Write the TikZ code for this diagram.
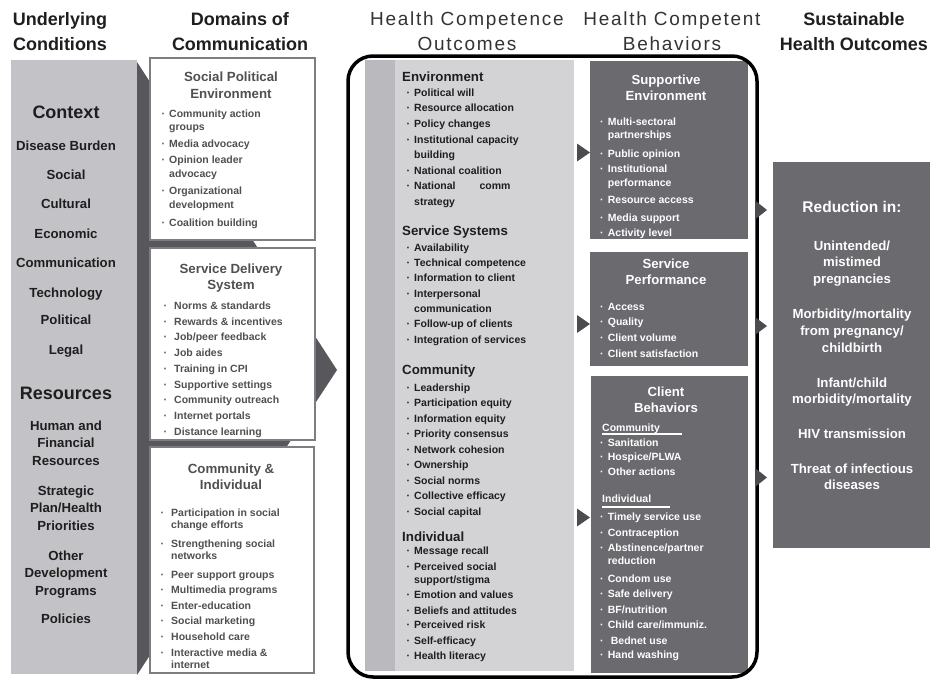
\documentclass[tikz,border=0pt]{standalone}
\usepackage{fontspec}
\setmainfont{Liberation Sans}
\newfontfamily\spacedfont[LetterSpace=9]{Liberation Sans}

\definecolor{ctxgray}{HTML}{C3C3C7}
\definecolor{shadegray}{HTML}{58585C}
\definecolor{rimgray}{HTML}{7E7E82}
\definecolor{domtext}{HTML}{505052}
\definecolor{panelgray}{HTML}{D3D3D6}
\definecolor{stripgray}{HTML}{BABABE}
\definecolor{boxdark}{HTML}{6A6A6F}
\definecolor{tipgray}{HTML}{4C4C50}
\definecolor{inktext}{HTML}{1E1E1E}

% lists: bullet column + text column, first baseline on top
\newcommand{\bulletlist}[2]{\begin{tabular}[t]{@{}l@{\hspace{#1}}l@{}}#2\end{tabular}}
\newcommand{\centrelist}[1]{\begin{tabular}[t]{@{}c@{}}#1\end{tabular}}
% small right-pointing arrow tip: left x, middle y, width, height
\newcommand{\tip}[4]{\fill[tipgray] (#1,#2) ++(0,-#4/2) -- ++(#3,#4/2) -- ++(-#3,#4/2) -- cycle;}

\tikzset{
  head/.style={inner sep=0pt, anchor=base, text=inktext, font=\bfseries\fontsize{18}{25}\selectfont},
  spacedhead/.style={inner sep=0pt, anchor=base, text=black!80, font=\spacedfont\fontsize{19}{25}\selectfont},
  ctx/.style={inner sep=0pt, anchor=base, text=inktext, font=\bfseries\fontsize{13.2}{17.5}\selectfont},
  ctxbig/.style={inner sep=0pt, anchor=base, text=inktext, font=\bfseries\fontsize{18}{20}\selectfont},
  commbox/.style={draw=rimgray, line width=2.5pt, fill=white},
  domtitle/.style={inner sep=0pt, anchor=base, text=domtext, font=\bfseries\fontsize{13.3}{16.5}\selectfont},
  domlist/.style={inner sep=0pt, anchor=base west, text=domtext, font=\bfseries\fontsize{10.5}{#1}\selectfont},
  outhead/.style={inner sep=0pt, anchor=base west, text=inktext, font=\bfseries\fontsize{13.3}{16}\selectfont},
  outlist/.style={inner sep=0pt, anchor=base west, text=inktext, font=\bfseries\fontsize{10.5}{#1}\selectfont},
  behtitle/.style={inner sep=0pt, anchor=base, text=white, font=\bfseries\fontsize{13.2}{16.5}\selectfont},
  behlist/.style={inner sep=0pt, anchor=base west, text=white, font=\bfseries\fontsize{10.5}{#1}\selectfont},
  redlist/.style={inner sep=0pt, anchor=base, text=white, font=\bfseries\fontsize{13.2}{16.7}\selectfont},
}

\begin{document}
\begin{tikzpicture}[x=1pt,y=-1pt]
    \useasboundingbox (0,0) rectangle (935,680);

    % column headings
    \node[head] (underlying) at (60,25.5) {\centrelist{Underlying\\Conditions}};
    \node[head] (domains) at (240,25.5) {\centrelist{Domains of\\Communication}};
    \node[spacedhead] (competence) at (467,25.5) {\centrelist{Health Competence\\Outcomes}};
    \node[spacedhead] (competent) at (672,25.5) {\centrelist{Health Competent\\Behaviors}};
    \node[head] (sustainable) at (854,25.5) {\centrelist{Sustainable\\Health Outcomes}};

    % underlying conditions column and its shadow wedge
    \fill[shadegray] (137,62) -- (337,370) -- (137,675) -- cycle;
    \fill[ctxgray] (11,60) rectangle (137,674);

    \node[ctxbig] (context) at (66,118) {Context};
    \foreach \txt/\yy [count=\i] in {Disease Burden/150, Social/179, Cultural/208,
        Economic/238, Communication/267, Technology/297, Political/324, Legal/354}
        \node[ctx] (ctx\i) at (66,\yy) {\txt};
    \node[ctxbig] (resources) at (66,399) {Resources};
    \node[ctx] (human) at (66,430) {\centrelist{Human and\\Financial\\Resources}};
    \node[ctx] (strategic) at (66,495) {\centrelist{Strategic\\Plan/Health\\Priorities}};
    \node[ctx] (otherdev) at (66,560) {\centrelist{Other\\Development\\Programs}};
    \node[ctx] (policies) at (66,623) {Policies};

    % domains of communication
    \draw[commbox] (150,58) rectangle (315,240);
    \draw[commbox] (150,248) rectangle (315,440);
    \draw[commbox] (150,447) rectangle (314,673);

    \node[domtitle] (spetitle) at (231,81.5) {\centrelist{Social Political\\Environment}};
    \node[domlist=13.3] (spelist) at (161.3,117) {\bulletlist{4.2pt}{
        · & Community action\\
          & groups\\[4.3pt]
        · & Media advocacy\\[2.7pt]
        · & Opinion leader\\
          & advocacy\\[4.4pt]
        · & Organizational\\
          & development\\[5pt]
        · & Coalition building}};

    \node[domtitle] (sdstitle) at (231,273.3) {\centrelist{Service Delivery\\System}};
    \node[domlist=15.7] (sdslist) at (163.3,309.5) {\bulletlist{7.2pt}{
        · & Norms \& standards\\
        · & Rewards \& incentives\\
        · & Job/peer feedback\\
        · & Job aides\\
        · & Training in CPI\\
        · & Supportive settings\\
        · & Community outreach\\
        · & Internet portals\\
        · & Distance learning}};

    \node[domtitle] (cititle) at (231,473) {\centrelist{Community \&\\Individual}};
    \node[domlist=12.5] (cilist) at (160.3,516.2) {\bulletlist{7.2pt}{
        · & Participation in social\\
          & change efforts\\[5.8pt]
        · & Strengthening social\\
          & networks\\[6.8pt]
        · & Peer support groups\\[2.5pt]
        · & Multimedia programs\\[3.2pt]
        · & Enter-education\\[2.8pt]
        · & Social marketing\\[3.2pt]
        · & Household care\\[3.2pt]
        · & Interactive media \&\\
          & internet}};

    % health competence outcomes
    \fill[panelgray] (365,60) rectangle (574,671);
    \fill[stripgray] (365,60) rectangle (395,671);

    \node[outhead] (envhead) at (402,81) {Environment};
    \node[outlist=15.6] (envlist) at (406.3,96.2) {\bulletlist{4.2pt}{
        · & Political will\\
        · & Resource allocation\\
        · & Policy changes\\
        · & Institutional capacity\\
          & building\\
        · & National coalition\\
        · & National\hspace{24pt}comm\\
          & strategy}};

    \node[outhead] (svchead) at (402,235.7) {Service Systems};
    \node[outlist=15.3] (svclist) at (406.3,251.2) {\bulletlist{4.2pt}{
        · & Availability\\
        · & Technical competence\\
        · & Information to client\\
        · & Interpersonal\\
          & communication\\
        · & Follow-up of clients\\
        · & Integration of services}};

    \node[outhead] (comhead) at (402,374.3) {Community};
    \node[outlist=15.5] (comlist) at (406.3,391.2) {\bulletlist{4.2pt}{
        · & Leadership\\
        · & Participation equity\\
        · & Information equity\\
        · & Priority consensus\\
        · & Network cohesion\\
        · & Ownership\\
        · & Social norms\\
        · & Collective efficacy\\
        · & Social capital}};

    \node[outhead] (indhead) at (402,541) {Individual};
    \node[outlist=13.3] (indlist) at (406.3,554.5) {\bulletlist{4.2pt}{
        · & Message recall\\[2.4pt]
        · & Perceived social\\
          & support/stigma\\[2pt]
        · & Emotion and values\\[2.4pt]
        · & Beliefs and attitudes\\[1pt]
        · & Perceived risk\\[2.4pt]
        · & Self-efficacy\\[1.7pt]
        · & Health literacy}};

    % health competent behaviors
    \fill[boxdark] (590,61) rectangle (748,239);
    \fill[boxdark] (590,252) rectangle (748,366);
    \fill[boxdark] (591,376) rectangle (748,673);

    \node[behtitle] (suptitle) at (666,84.3) {\centrelist{Supportive\\Environment}};
    \node[behlist=13.5] (suplist) at (600,125.2) {\bulletlist{4.2pt}{
        · & Multi-sectoral\\
          & partnerships\\[4.9pt]
        · & Public opinion\\[2.1pt]
        · & Institutional\\
          & performance\\[4.1pt]
        · & Resource access\\[3.9pt]
        · & Media support\\[1.5pt]
        · & Activity level}};

    \node[behtitle] (perftitle) at (666,268.3) {\centrelist{Service\\Performance}};
    \node[behlist=15.6] (perflist) at (600,310.2) {\bulletlist{4.2pt}{
        · & Access\\
        · & Quality\\
        · & Client volume\\
        · & Client satisfaction}};

    \node[behtitle] (clitle) at (666,396) {\centrelist{Client\\Behaviors}};
    \node[behlist=14] (clcom) at (602,431.2) {Community};
    \draw[white, line width=1.4pt] (602,433.8) -- (682,433.8);
    \node[behlist=14.7] (clcomlist) at (600,446.2) {\bulletlist{4.2pt}{
        · & Sanitation\\
        · & Hospice/PLWA\\
        · & Other actions}};
    \node[behlist=14] (clind) at (602,502.8) {Individual};
    \draw[white, line width=1.4pt] (602,507) -- (670,507);
    \node[behlist=13.7] (clindlist) at (600,520.5) {\bulletlist{4.2pt}{
        · & Timely service use\\[2.3pt]
        · & Contraception\\[1pt]
        · & Abstinence/partner\\
          & reduction\\[4.3pt]
        · & Condom use\\[0.7pt]
        · & Safe delivery\\[2pt]
        · & BF/nutrition\\[2pt]
        · & Child care/immuniz.\\[1.7pt]
        · & \hspace{3pt}Bednet use\\[1pt]
        · & Hand washing}};

    % sustainable health outcomes
    \fill[boxdark] (773,162) rectangle (930,548);
    \node[redlist, font=\bfseries\fontsize{15.5}{18}\selectfont] (reduction) at (852,212) {Reduction in:};
    \node[redlist] (reductions) at (852,250.2) {\centrelist{
        Unintended/\\
        mistimed\\
        pregnancies\\[18.3pt]
        Morbidity/mortality\\
        from pregnancy/\\
        childbirth\\[18.3pt]
        Infant/child\\
        morbidity/mortality\\[17.6pt]
        HIV transmission\\[18.3pt]
        Threat of infectious\\
        diseases}};

    % frame round the two middle columns
    \draw[line width=3.5pt, rounded corners=25pt] (348,56) rectangle (757,677);

    % arrow tips
    \tip{577}{152.5}{13}{18}
    \tip{577}{324}{13}{18}
    \tip{577}{517.5}{13}{18}
    \tip{755}{210}{12}{19}
    \tip{755}{326}{12}{18}
    \tip{755}{477.5}{12}{19}
\end{tikzpicture}
\end{document}
